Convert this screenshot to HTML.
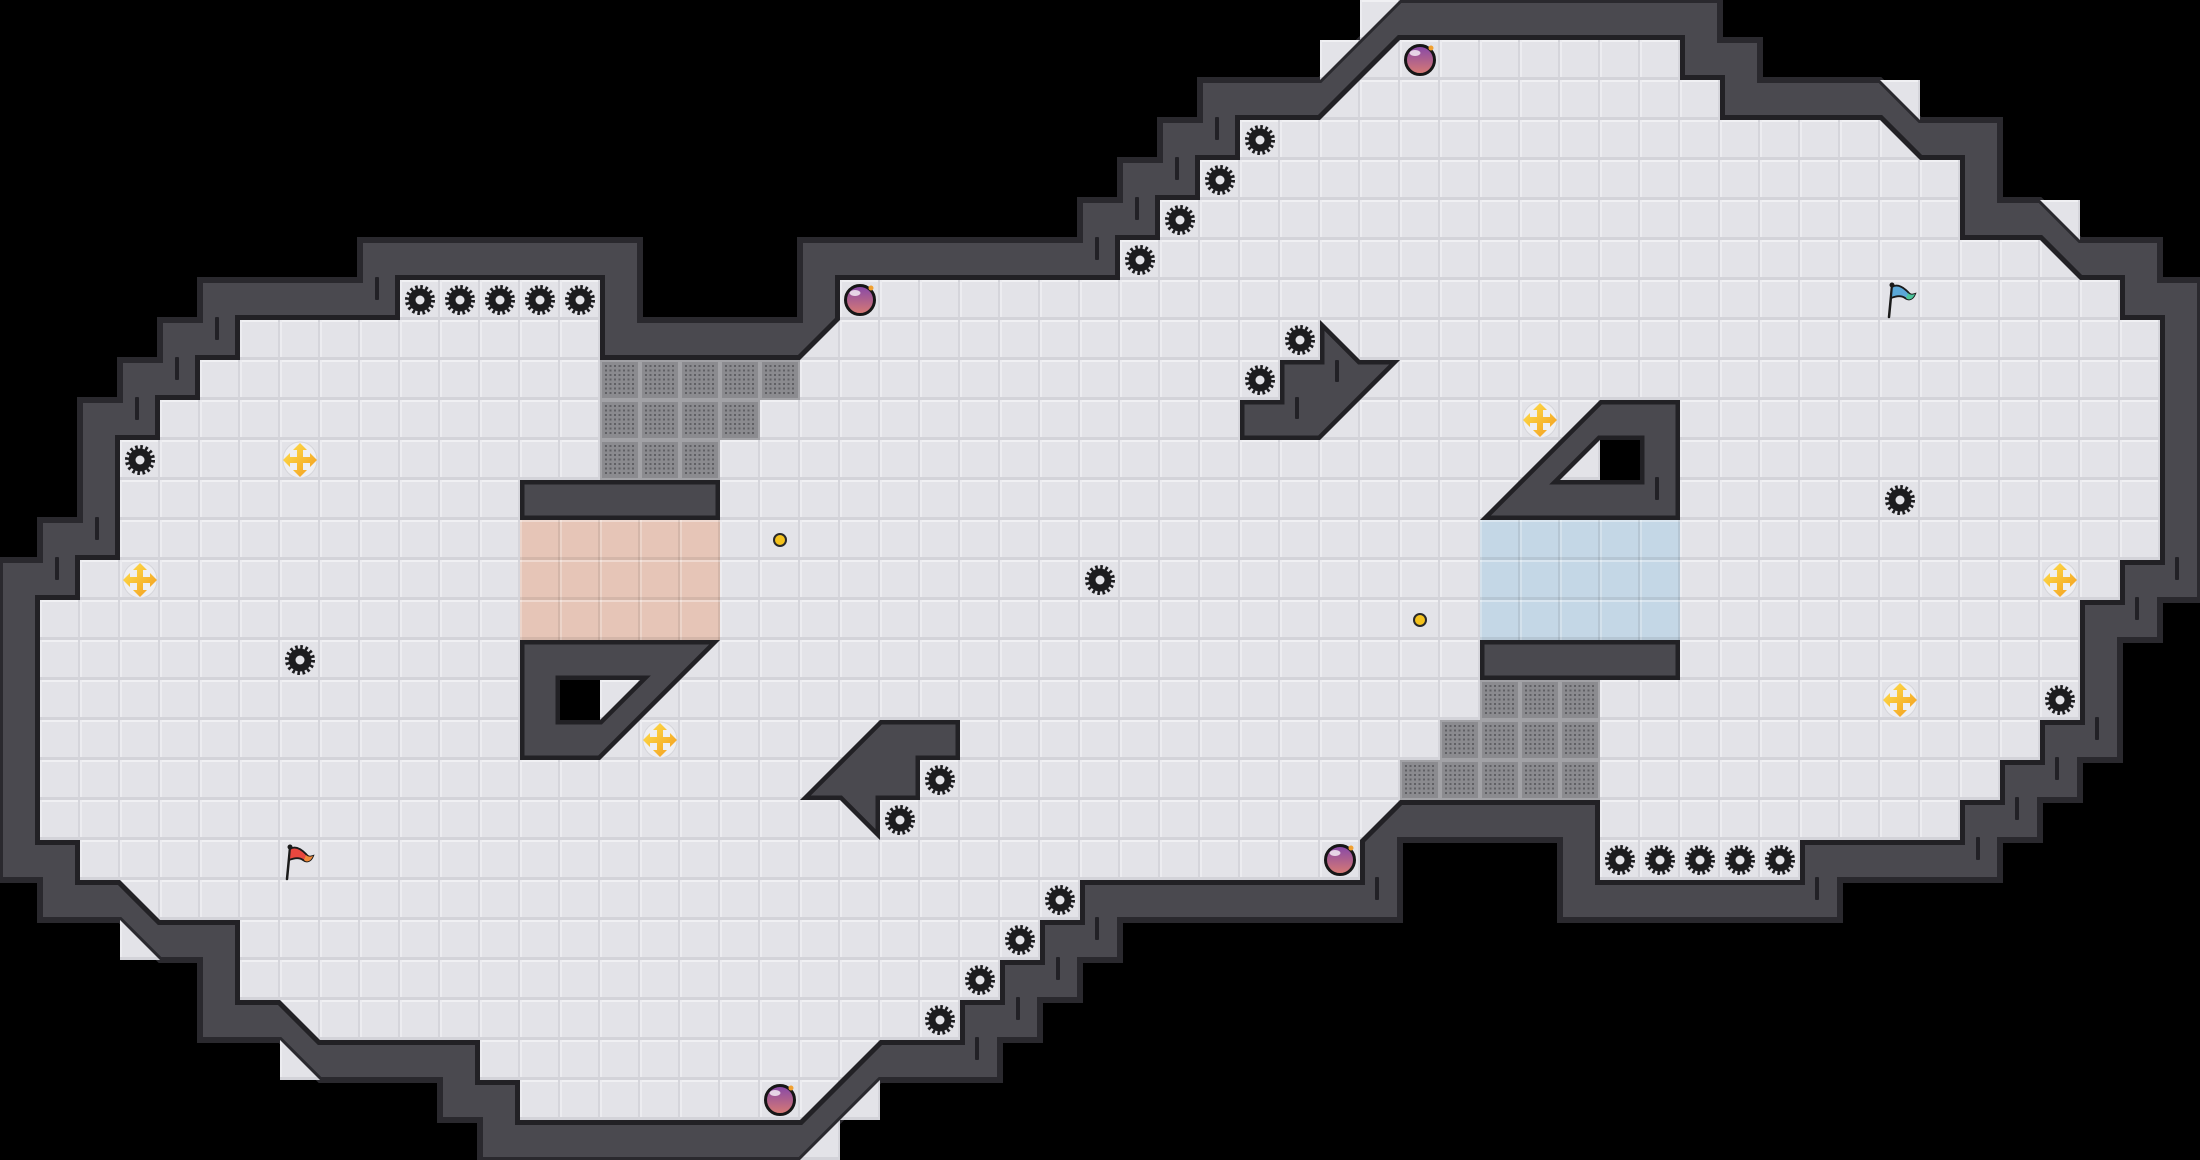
<!DOCTYPE html>
<html>
<head>
<meta charset="utf-8">
<style>
html,body{margin:0;padding:0;background:#000;overflow:hidden;}
svg{display:block;}
</style>
</head>
<body>
<svg width="2200" height="1160" viewBox="0 0 2200 1160" xmlns="http://www.w3.org/2000/svg">
<defs>
  <pattern id="tile" width="40" height="40" patternUnits="userSpaceOnUse">
    <rect width="40" height="40" fill="#e3e3e8"/>
    <rect x="0" y="0" width="40" height="2" fill="#f0f0f3"/>
    <rect x="0" y="0" width="2" height="40" fill="#ececf0"/>
    <rect x="0" y="37" width="40" height="3" fill="#d3d3d9"/>
    <rect x="38" y="0" width="2" height="40" fill="#d5d5db"/>
  </pattern>
  <pattern id="ov" width="40" height="40" patternUnits="userSpaceOnUse">
    <rect x="0" y="0" width="40" height="2" fill="#ffffff" opacity="0.35"/>
    <rect x="0" y="0" width="2" height="40" fill="#ffffff" opacity="0.25"/>
    <rect x="0" y="37" width="40" height="3" fill="#000000" opacity="0.08"/>
    <rect x="38" y="0" width="2" height="40" fill="#000000" opacity="0.08"/>
  </pattern>
  <pattern id="mesh" width="40" height="40" patternUnits="userSpaceOnUse">
    <rect width="40" height="40" fill="#a2a2a6"/>
    <rect x="2" y="2" width="36" height="36" fill="#8b8b8f"/>
    <path d="M5 6H36M5 10.5H36M5 15H36M5 19.5H36M5 24H36M5 28.5H36M5 33H36" stroke="#606064" stroke-width="2" stroke-dasharray="2 2.5"/>
  </pattern>
  <linearGradient id="gg" x1="0" y1="0" x2="1" y2="1">
    <stop offset="0" stop-color="#ffe24d"/>
    <stop offset="1" stop-color="#f29a1c"/>
  </linearGradient>
  <linearGradient id="bg" x1="0" y1="0" x2="0" y2="1">
    <stop offset="0" stop-color="#8547a9"/>
    <stop offset="1" stop-color="#d97b72"/>
  </linearGradient>
  <g id="saw">
    <circle r="12.5" fill="none" stroke="#1c1c1f" stroke-width="5" stroke-dasharray="2.45 2.45"/>
    <circle r="11.5" fill="#1c1c1f"/>
    <circle r="4.5" fill="#e3e3e8"/>
  </g>
  <g id="gold">
    <ellipse rx="17" ry="18" fill="#efeff2" stroke="#d6d6db" stroke-width="1"/>
    <path d="M-3,-10 L-3,-3 L-10,-3 L-10,-7 L-17,0 L-10,7 L-10,3 L-3,3 L-3,10 L-7,10 L0,17 L7,10 L3,10 L3,3 L10,3 L10,7 L17,0 L10,-7 L10,-3 L3,-3 L3,-10 L7,-10 L0,-17 L-7,-10 Z" fill="url(#gg)"/>
  </g>
  <g id="bomb">
    <circle r="14.5" fill="url(#bg)" stroke="#161616" stroke-width="3"/>
    <ellipse cx="-5" cy="-7" rx="5.5" ry="3" fill="#ffffff" opacity="0.75"/>
    <circle cx="11" cy="-12" r="2.5" fill="#f0a030"/>
  </g>
  <clipPath id="c1"><rect x="520" y="480" width="200" height="40"/></clipPath>
  <clipPath id="c2"><rect x="1480" y="640" width="200" height="40"/></clipPath>
  <clipPath id="c3"><polygon points="520,640 720,640 600,760 520,760"/></clipPath>
  <clipPath id="c4"><polygon points="880,720 960,720 960,760 920,760 920,800 880,800 880,840 840,800 800,800"/></clipPath>
  <clipPath id="c5"><polygon points="1240,400 1280,400 1280,360 1320,360 1320,320 1360,360 1400,360 1320,440 1240,440"/></clipPath>
  <clipPath id="c6"><polygon points="1600,400 1680,400 1680,520 1480,520"/></clipPath>
</defs>

<rect width="2200" height="1160" fill="#000"/>

<!-- outer wall band -->
<polygon fill="#4a494f" stroke="#2a292e" stroke-width="6" stroke-linejoin="miter" points="2200,600 2160,600 2160,640 2120,640 2120,760 2080,760 2080,800 2040,800 2040,840 2000,840 2000,880 1840,880 1840,920 1560,920 1560,840 1400,840 1400,920 1120,920 1120,960 1080,960 1080,1000 1040,1000 1040,1040 1000,1040 1000,1080 880,1080 800,1160 480,1160 480,1120 440,1120 440,1080 320,1080 280,1040 200,1040 200,960 160,960 120,920 40,920 40,880 0,880 0,560 40,560 40,520 80,520 80,400 120,400 120,360 160,360 160,320 200,320 200,280 360,280 360,240 640,240 640,320 800,320 800,240 1080,240 1080,200 1120,200 1120,160 1160,160 1160,120 1200,120 1200,80 1320,80 1400,0 1720,0 1720,40 1760,40 1760,80 1880,80 1920,120 2000,120 2000,200 2040,200 2080,240 2160,240 2160,280 2200,280"/>

<!-- outer light triangles -->
<g fill="url(#tile)">
  <polygon points="1360,0 1400,0 1360,40"/>
  <polygon points="1320,40 1360,40 1320,80"/>
  <polygon points="1880,80 1920,80 1920,120"/>
  <polygon points="2040,200 2080,200 2080,240"/>
  <polygon points="120,920 120,960 160,960"/>
  <polygon points="280,1040 280,1080 320,1080"/>
  <polygon points="840,1120 840,1160 800,1160"/>
  <polygon points="880,1080 880,1120 840,1120"/>
</g>

<!-- wall ticks -->
<g fill="#222126">
  <rect x="375" y="277" width="4" height="23" rx="1"/>
  <rect x="215" y="317" width="4" height="23" rx="1"/>
  <rect x="175" y="357" width="4" height="23" rx="1"/>
  <rect x="135" y="397" width="4" height="23" rx="1"/>
  <rect x="95" y="517" width="4" height="23" rx="1"/>
  <rect x="55" y="557" width="4" height="23" rx="1"/>
  <rect x="1215" y="117" width="4" height="23" rx="1"/>
  <rect x="1175" y="157" width="4" height="23" rx="1"/>
  <rect x="1135" y="197" width="4" height="23" rx="1"/>
  <rect x="1095" y="237" width="4" height="23" rx="1"/>
  <rect x="1375" y="877" width="4" height="23" rx="1"/>
  <rect x="1095" y="917" width="4" height="23" rx="1"/>
  <rect x="1056" y="957" width="4" height="23" rx="1"/>
  <rect x="1016" y="997" width="4" height="23" rx="1"/>
  <rect x="975" y="1037" width="4" height="23" rx="1"/>
  <rect x="1815" y="877" width="4" height="23" rx="1"/>
  <rect x="2175" y="557" width="4" height="23" rx="1"/>
  <rect x="2135" y="597" width="4" height="23" rx="1"/>
  <rect x="2095" y="717" width="4" height="23" rx="1"/>
  <rect x="2055" y="757" width="4" height="23" rx="1"/>
  <rect x="2015" y="797" width="4" height="23" rx="1"/>
  <rect x="1976" y="837" width="4" height="23" rx="1"/>
</g>

<!-- floor -->
<polygon id="P" fill="none" stroke="#222125" stroke-width="10" stroke-linejoin="miter" points="400,280 600,280 600,360 800,360 840,320 840,280 1120,280 1120,240 1160,240 1160,200 1200,200 1200,160 1240,160 1240,120 1320,120 1400,40 1680,40 1680,80 1720,80 1720,120 1880,120 1920,160 1960,160 1960,240 2040,240 2080,280 2120,280 2120,320 2160,320 2160,560 2120,560 2120,600 2080,600 2080,720 2040,720 2040,760 2000,760 2000,800 1960,800 1960,840 1800,840 1800,880 1600,880 1600,800 1400,800 1360,840 1360,880 1080,880 1080,920 1040,920 1040,960 1000,960 1000,1000 960,1000 960,1040 880,1040 800,1120 520,1120 520,1080 480,1080 480,1040 320,1040 280,1000 240,1000 240,920 160,920 120,880 80,880 80,840 40,840 40,600 80,600 80,560 120,560 120,440 160,440 160,400 200,400 200,360 240,360 240,320 400,320"/>
<polygon fill="url(#tile)" points="400,280 600,280 600,360 800,360 840,320 840,280 1120,280 1120,240 1160,240 1160,200 1200,200 1200,160 1240,160 1240,120 1320,120 1400,40 1680,40 1680,80 1720,80 1720,120 1880,120 1920,160 1960,160 1960,240 2040,240 2080,280 2120,280 2120,320 2160,320 2160,560 2120,560 2120,600 2080,600 2080,720 2040,720 2040,760 2000,760 2000,800 1960,800 1960,840 1800,840 1800,880 1600,880 1600,800 1400,800 1360,840 1360,880 1080,880 1080,920 1040,920 1040,960 1000,960 1000,1000 960,1000 960,1040 880,1040 800,1120 520,1120 520,1080 480,1080 480,1040 320,1040 280,1000 240,1000 240,920 160,920 120,880 80,880 80,840 40,840 40,600 80,600 80,560 120,560 120,440 160,440 160,400 200,400 200,360 240,360 240,320 400,320"/>

<!-- mesh -->
<g fill="url(#mesh)">
  <rect x="600" y="360" width="200" height="40"/>
  <rect x="600" y="400" width="160" height="40"/>
  <rect x="600" y="440" width="120" height="40"/>
  <rect x="1480" y="680" width="120" height="40"/>
  <rect x="1440" y="720" width="160" height="40"/>
  <rect x="1400" y="760" width="200" height="40"/>
</g>

<!-- pink / blue -->
<rect x="520" y="520" width="200" height="120" fill="#e6c5b7"/>
<rect x="520" y="520" width="200" height="120" fill="url(#ov)"/>
<rect x="1480" y="520" width="200" height="120" fill="#c4d7e6"/>
<rect x="1480" y="520" width="200" height="120" fill="url(#ov)"/>

<!-- obstacles -->
<g fill="#4a494f" stroke="#222125" stroke-width="9" stroke-linejoin="miter">
  <rect x="520" y="480" width="200" height="40" clip-path="url(#c1)"/>
  <rect x="1480" y="640" width="200" height="40" clip-path="url(#c2)"/>
  <polygon points="520,640 720,640 600,760 520,760" clip-path="url(#c3)"/>
  <polygon points="880,720 960,720 960,760 920,760 920,800 880,800 880,840 840,800 800,800" clip-path="url(#c4)"/>
  <polygon points="1240,400 1280,400 1280,360 1320,360 1320,320 1360,360 1400,360 1320,440 1240,440" clip-path="url(#c5)"/>
  <polygon points="1600,400 1680,400 1680,520 1480,520" clip-path="url(#c6)"/>
</g>
<!-- holes -->
<polygon points="560,680 640,680 600,720 560,720" fill="none" stroke="#222125" stroke-width="9"/>
<rect x="560" y="680" width="40" height="40" fill="#000"/>
<polygon points="600,680 640,680 600,720" fill="url(#tile)"/>
<polygon points="1560,480 1600,440 1640,440 1640,480" fill="none" stroke="#222125" stroke-width="9"/>
<rect x="1600" y="440" width="40" height="40" fill="#000"/>
<polygon points="1600,440 1600,480 1560,480" fill="url(#tile)"/>
<g fill="#222126">
  <rect x="1335" y="360" width="4" height="22" rx="1"/>
  <rect x="1295" y="397" width="4" height="22" rx="1"/>
  <rect x="1655" y="477" width="4" height="23" rx="1"/>
</g>

<!-- saws -->
<use href="#saw" x="420" y="300"/>
<use href="#saw" x="460" y="300"/>
<use href="#saw" x="500" y="300"/>
<use href="#saw" x="540" y="300"/>
<use href="#saw" x="580" y="300"/>
<use href="#saw" x="140" y="460"/>
<use href="#saw" x="300" y="660"/>
<use href="#saw" x="1260" y="140"/>
<use href="#saw" x="1220" y="180"/>
<use href="#saw" x="1180" y="220"/>
<use href="#saw" x="1140" y="260"/>
<use href="#saw" x="1300" y="340"/>
<use href="#saw" x="1260" y="380"/>
<use href="#saw" x="1100" y="580"/>
<use href="#saw" x="1900" y="500"/>
<use href="#saw" x="2060" y="700"/>
<use href="#saw" x="1620" y="860"/>
<use href="#saw" x="1660" y="860"/>
<use href="#saw" x="1700" y="860"/>
<use href="#saw" x="1740" y="860"/>
<use href="#saw" x="1780" y="860"/>
<use href="#saw" x="940" y="780"/>
<use href="#saw" x="900" y="820"/>
<use href="#saw" x="1060" y="900"/>
<use href="#saw" x="1020" y="940"/>
<use href="#saw" x="980" y="980"/>
<use href="#saw" x="940" y="1020"/>

<!-- gold -->
<use href="#gold" x="300" y="460"/>
<use href="#gold" x="140" y="580"/>
<use href="#gold" x="660" y="740"/>
<use href="#gold" x="1540" y="420"/>
<use href="#gold" x="2060" y="580"/>
<use href="#gold" x="1900" y="700"/>

<!-- bombs -->
<use href="#bomb" x="860" y="300"/>
<use href="#bomb" x="1420" y="60"/>
<use href="#bomb" x="1340" y="860"/>
<use href="#bomb" x="780" y="1100"/>

<!-- small dots -->
<circle cx="780" cy="540" r="6" fill="#f4c21c" stroke="#2a2a2a" stroke-width="2"/>
<circle cx="1420" cy="620" r="6" fill="#f4c21c" stroke="#2a2a2a" stroke-width="2"/>

<!-- flags -->
<g transform="translate(298,862)">
  <line x1="-8" y1="-14" x2="-11" y2="17" stroke="#1a1a1a" stroke-width="2.5" stroke-linecap="round"/>
  <path d="M-8,-13 C-2,-17 4,-12 8,-8 C10,-5 12,-5 15,-6 C13,-1 9,1 5,-2 C1,-5 -4,-4 -9,-2 Z" fill="#e8473f" stroke="#1a1a1a" stroke-width="1.8"/>
  <path d="M8,-7 C10,-5 12,-5 15,-6 C13,-1 9,1 6,-2 Z" fill="#f08a3a"/>
  <circle cx="-8" cy="-15" r="2.5" fill="#1a1a1a"/>
</g>
<g transform="translate(1900,300)">
  <line x1="-8" y1="-14" x2="-11" y2="17" stroke="#1a1a1a" stroke-width="2.5" stroke-linecap="round"/>
  <path d="M-8,-13 C-2,-17 4,-12 8,-8 C10,-5 12,-5 15,-6 C13,-1 9,1 5,-2 C1,-5 -4,-4 -9,-2 Z" fill="#5aa8d8" stroke="#1a1a1a" stroke-width="1.8"/>
  <path d="M8,-7 C10,-5 12,-5 15,-6 C13,-1 9,1 6,-2 Z" fill="#4cc49c"/>
  <circle cx="-8" cy="-15" r="2.5" fill="#1a1a1a"/>
</g>
</svg>
</body>
</html>
